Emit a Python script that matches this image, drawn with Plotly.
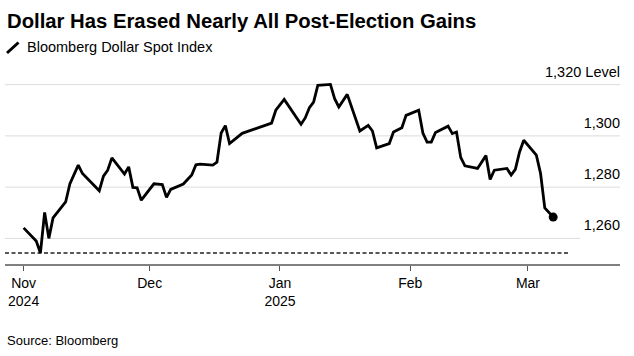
import plotly.graph_objects as go

# ---------------- data ----------------
dates = [
    "2024-11-01", "2024-11-04", "2024-11-05", "2024-11-06", "2024-11-07", "2024-11-08",
    "2024-11-11", "2024-11-12", "2024-11-14", "2024-11-15", "2024-11-19", "2024-11-20",
    "2024-11-21", "2024-11-22", "2024-11-25", "2024-11-26", "2024-11-27", "2024-11-28",
    "2024-11-29", "2024-12-02", "2024-12-04", "2024-12-05", "2024-12-06", "2024-12-09",
    "2024-12-11", "2024-12-12", "2024-12-13", "2024-12-16", "2024-12-17", "2024-12-18",
    "2024-12-19", "2024-12-20", "2024-12-23", "2024-12-26", "2024-12-30", "2024-12-31",
    "2025-01-02", "2025-01-06", "2025-01-07", "2025-01-08", "2025-01-09", "2025-01-10",
    "2025-01-13", "2025-01-14", "2025-01-15", "2025-01-17", "2025-01-20", "2025-01-22",
    "2025-01-23", "2025-01-24", "2025-01-27", "2025-01-28", "2025-01-30", "2025-01-31",
    "2025-02-03", "2025-02-04", "2025-02-05", "2025-02-06", "2025-02-07", "2025-02-10",
    "2025-02-11", "2025-02-12", "2025-02-13", "2025-02-14", "2025-02-17", "2025-02-19",
    "2025-02-20", "2025-02-21", "2025-02-24", "2025-02-25", "2025-02-26", "2025-02-27",
    "2025-02-28", "2025-03-03", "2025-03-04", "2025-03-05", "2025-03-07",
]
index_level = [
    1264.1, 1259.0, 1254.3, 1270.1, 1260.0, 1268.0,
    1274.2, 1281.2, 1288.6, 1285.3, 1278.6, 1284.3,
    1286.6, 1291.4, 1285.1, 1287.9, 1279.9, 1279.7,
    1274.9, 1281.3, 1281.0, 1276.0, 1279.1, 1281.2,
    1284.7, 1288.7, 1289.0, 1288.6, 1289.7, 1301.1,
    1304.0, 1297.0, 1301.0, 1302.7, 1305.0, 1310.0,
    1314.2, 1304.5, 1307.0, 1311.0, 1313.2, 1319.7,
    1320.1, 1314.5, 1311.3, 1316.2, 1301.9, 1304.1,
    1301.9, 1295.3, 1297.0, 1301.5, 1303.2, 1308.0,
    1310.0, 1301.1, 1297.6, 1297.6, 1301.3, 1303.8,
    1300.9, 1301.5, 1291.6, 1288.3, 1287.3, 1292.3,
    1283.0, 1286.6, 1287.3, 1284.7, 1286.9, 1293.7,
    1298.3, 1292.5, 1285.3, 1271.9, 1268.3,
]
pre_election_level = 1254.3

y_tick_values = [1260, 1280, 1300, 1320]
y_tick_labels = ["1,260", "1,280", "1,300", "1,320 Level"]
x_tick_values = ["2024-11-01", "2024-12-01", "2025-01-01", "2025-02-01", "2025-03-01"]
x_tick_labels = ["Nov<br>2024", "Dec", "Jan<br>2025", "Feb", "Mar"]

title_text = "Dollar Has Erased Nearly All Post-Election Gains"
series_name = "Bloomberg Dollar Spot Index"
source_text = "Source: Bloomberg"

# ---------------- layout geometry ----------------
W, H = 634, 356
L, R, T, B = 5, 14, 59, 92
PW, PH = W - L - R, H - T - B
FONT = "Liberation Sans, Arial, Helvetica, sans-serif"


def px_x(px):
    return (px - L) / PW


def px_y(py):
    return (H - B - py) / PH


fig = go.Figure()

fig.add_trace(go.Scatter(
    x=dates, y=index_level, mode="lines",
    line=dict(color="#000000", width=2.8),
    name=series_name, hoverinfo="x+y",
))
fig.add_trace(go.Scatter(
    x=dates[-1:], y=index_level[-1:], mode="markers",
    marker=dict(color="#000000", size=9),
    hoverinfo="skip",
))

shapes = []
# gridlines
for v in y_tick_values:
    shapes.append(dict(
        type="line", xref="paper", yref="y", x0=0,
        x1=1 if v != min(y_tick_values) else px_x(580), y0=v, y1=v,
        line=dict(color="#dcdcdc", width=1), layer="below",
    ))
# pre-election dashed reference
shapes.append(dict(
    type="line", xref="paper", yref="y", x0=0, x1=px_x(570),
    y0=pre_election_level, y1=pre_election_level,
    line=dict(color="#222222", width=1.4, dash="4px,2.5px"), layer="below",
))
# legend slash icon
shapes.append(dict(
    type="line", xref="paper", yref="paper",
    x0=px_x(7), y0=px_y(53), x1=px_x(18.5), y1=px_y(42.5),
    line=dict(color="#000000", width=3),
))

annotations = [
    dict(text="<b>" + title_text + "</b>", xref="paper", yref="paper",
         x=px_x(5), y=px_y(20.5), xanchor="left", yanchor="middle",
         showarrow=False, font=dict(family=FONT, size=20.3, color="#000000")),
    dict(text=series_name, xref="paper", yref="paper",
         x=px_x(25), y=px_y(47.5), xanchor="left", yanchor="middle",
         showarrow=False, font=dict(family=FONT, size=14.5, color="#000000")),
    dict(text=source_text, xref="paper", yref="paper",
         x=px_x(5), y=px_y(340), xanchor="left", yanchor="middle",
         showarrow=False, font=dict(family=FONT, size=13, color="#000000")),
]

fig.update_layout(
    width=W, height=H,
    margin=dict(l=L, r=R, t=T, b=B, pad=0, autoexpand=False),
    paper_bgcolor="#ffffff", plot_bgcolor="#ffffff",
    showlegend=False,
    shapes=shapes, annotations=annotations,
    font=dict(family=FONT, size=14, color="#000000"),
    xaxis=dict(
        type="date", automargin=False,
        range=["2024-10-27 13:40", "2025-03-22 21:36"],
        tickvals=x_tick_values, ticktext=x_tick_labels,
        showgrid=False, zeroline=False,
        showline=True, linecolor="#808080", linewidth=1.5,
        ticks="outside", ticklen=5, tickwidth=1, tickcolor="#555555",
        tickfont=dict(family=FONT, size=14, color="#000000"),
        fixedrange=True,
    ),
    yaxis=dict(
        automargin=False,
        range=[1250, 1330],
        tickvals=y_tick_values, ticktext=y_tick_labels,
        side="right", ticklabelposition="inside",
        ticklabelshift=-13, ticklabelstandoff=-3,
        showgrid=False, zeroline=False, showline=False, ticks="",
        tickfont=dict(family=FONT, size=14.5, color="#000000"),
        fixedrange=True,
    ),
)

fig.write_html(
    "out.html",
    config={"displayModeBar": False},
    post_script="document.body.style.margin='0px';",
)
